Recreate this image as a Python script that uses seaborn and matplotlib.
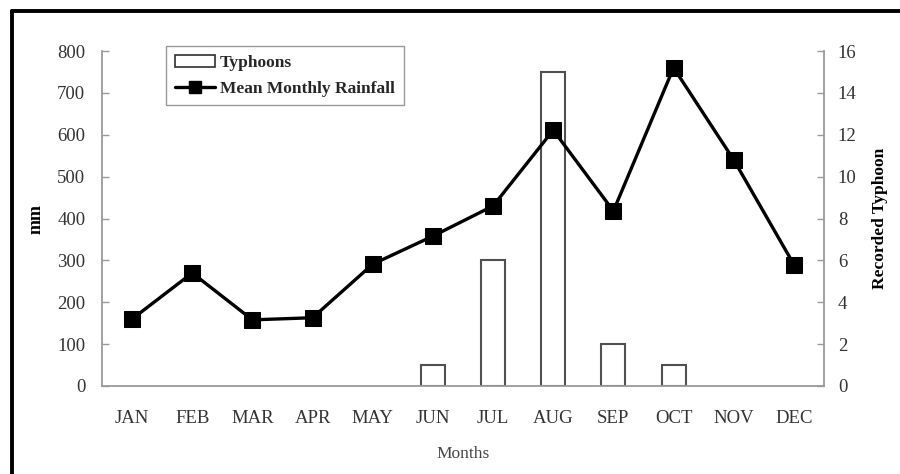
import matplotlib
matplotlib.use("Agg")
import matplotlib.pyplot as plt
from matplotlib.lines import Line2D
from matplotlib.patches import Patch
import pandas as pd
import seaborn as sns

months = ["JAN", "FEB", "MAR", "APR", "MAY", "JUN",
          "JUL", "AUG", "SEP", "OCT", "NOV", "DEC"]
rainfall_mm = [160, 270, 158, 163, 291, 358, 430, 611, 418, 760, 540, 290]
typhoons = [0, 0, 0, 0, 0, 1, 6, 15, 2, 1, 0, 0]
mm_ticks = [0, 100, 200, 300, 400, 500, 600, 700, 800]
typhoon_ticks = [0, 2, 4, 6, 8, 10, 12, 14, 16]

df = pd.DataFrame({"Month": months, "Rainfall": rainfall_mm, "Typhoons": typhoons})

sns.set_style("white")
plt.rcParams["font.family"] = ["Liberation Serif", "DejaVu Serif"]

spine_col = "#9a9a9a"
text_col = "#333333"

fig = plt.figure(figsize=(9, 4.74), dpi=100)
ax = fig.add_axes([102 / 900, 1 - 386 / 474, 722 / 900, 335 / 474])
ax2 = ax.twinx()

# typhoon counts as hollow bars on the right-hand axis
sns.barplot(data=df, x="Month", y="Typhoons", ax=ax2, order=months,
            color="white", edgecolor="#505050", linewidth=1.5, width=0.4,
            saturation=1)
# months without typhoons get no outline along the baseline
for p in ax2.patches:
    if p.get_height() == 0:
        p.set_visible(False)

# rainfall line on the left-hand axis, drawn above the bars
sns.lineplot(data=df, x="Month", y="Rainfall", ax=ax, sort=False,
             color="black", linewidth=2.4, marker="s", markersize=11,
             markeredgecolor="black", markerfacecolor="black")
ax.set_zorder(ax2.get_zorder() + 1)
ax.patch.set_visible(False)

ax.set_xlim(-0.5, 11.5)
ax.set_ylim(0, 800)
ax2.set_ylim(0, 16)
ax.set_yticks(mm_ticks)
ax2.set_yticks(typhoon_ticks)
ax.set_xticks(range(len(months)))
ax.set_xticklabels(months)
ax.set_xticks([i - 0.5 for i in range(len(months) + 1)], minor=True)

for a in (ax, ax2):
    for s in a.spines.values():
        s.set_visible(False)
ax.spines["left"].set_visible(True)
ax.spines["bottom"].set_visible(True)
ax2.spines["right"].set_visible(True)
for s in (ax.spines["left"], ax.spines["bottom"], ax2.spines["right"]):
    s.set_color(spine_col)
    s.set_linewidth(1.3)

ax.tick_params(axis="x", which="major", length=0, pad=17,
               labelsize=13.5, labelcolor=text_col)
ax.tick_params(axis="x", which="minor", direction="in", length=5,
               color=spine_col, width=1)
ax.tick_params(axis="y", direction="in", length=5, color=spine_col, width=1,
               pad=12, labelsize=13.5, labelcolor=text_col, left=True)
ax2.tick_params(axis="y", direction="in", length=5, color=spine_col, width=1,
                pad=10, labelsize=13.5, labelcolor=text_col, right=True)
ax2.tick_params(axis="x", length=0)
ax2.set_xlabel("")

ax.set_xlabel("Months", fontsize=12.5, color="#444444", labelpad=14)
ax.set_ylabel("mm", fontsize=13, fontweight="bold", color="black")
ax.yaxis.set_label_coords(-0.08, 0.5)
ax2.set_ylabel("Recorded Typhoon", fontsize=12.5, fontweight="bold",
               color="black", rotation=90)
ax2.yaxis.set_label_coords(1.066, 0.5)

handles = [
    Patch(facecolor="white", edgecolor="#303030", linewidth=1.2),
    Line2D([0], [0], color="black", linewidth=2.4, marker="s",
           markersize=9),
]
leg = ax.legend(handles, ["Typhoons", "Mean Monthly Rainfall"],
                loc="upper left", bbox_to_anchor=(0.077, 1.04),
                frameon=True, fancybox=False, framealpha=1,
                edgecolor="#9a9a9a", handlelength=2.3, handletextpad=0.3,
                borderpad=0.5, labelspacing=0.55,
                prop={"weight": "bold", "size": 12.5})
leg.get_frame().set_linewidth(1.0)

# thick frame along the left and top edges
fig.add_artist(Line2D([12 / 900, 12 / 900], [0, 1 - 11 / 474],
                      transform=fig.transFigure, color="black", linewidth=2.8))
fig.add_artist(Line2D([12 / 900, 1], [1 - 11 / 474, 1 - 11 / 474],
                      transform=fig.transFigure, color="black", linewidth=2.8))

fig.savefig("out.png", dpi=100, facecolor="white")
